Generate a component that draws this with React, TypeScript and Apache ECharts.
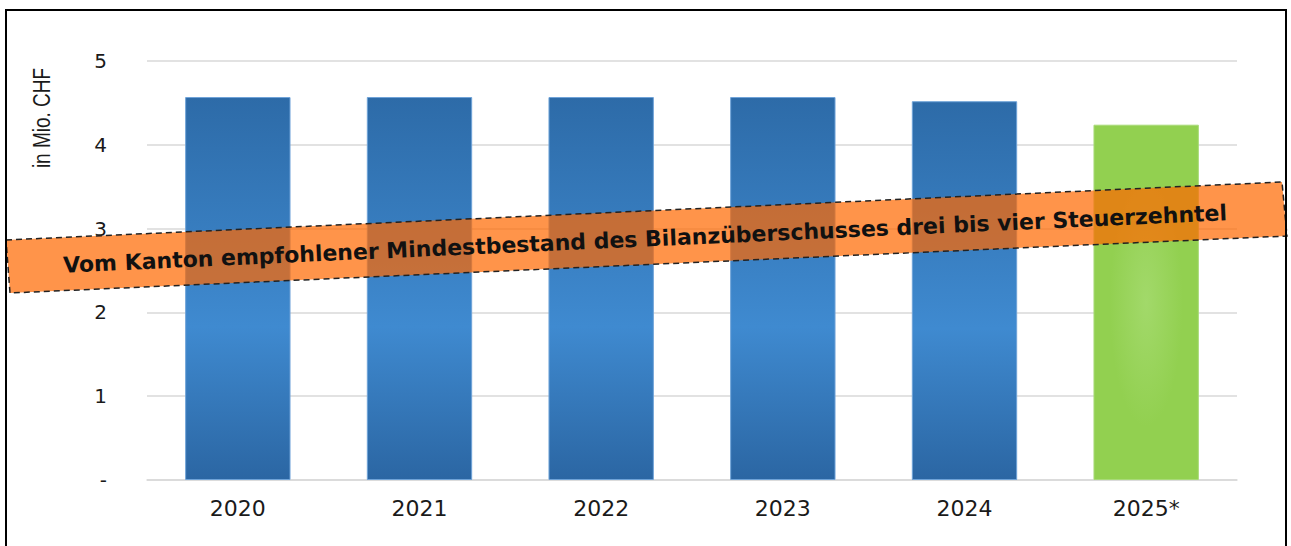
import React, { useEffect, useRef } from "react";
import * as echarts from "echarts";

const years = ["2020", "2021", "2022", "2023", "2024", "2025*"];
const values = [4.57, 4.57, 4.57, 4.57, 4.52, 4.24];
const yTicks = [0, 1, 2, 3, 4, 5];
const yAxisTitle = "in Mio. CHF";
const bandText =
  "Vom Kanton empfohlener Mindestbestand des Bilanzüberschusses drei bis vier Steuerzehntel";

export default function App() {
  const ref = useRef<HTMLDivElement>(null);
  useEffect(() => {
    if (!ref.current) return;
    const chart = echarts.init(ref.current, null, { renderer: "svg" });
    const blue = new echarts.graphic.LinearGradient(0, 0, 0, 1, [
      { offset: 0, color: "#2D6BA8" },
      { offset: 0.6, color: "#3F8AD0" },
      { offset: 1, color: "#2B66A3" },
    ]);
    const green = new echarts.graphic.RadialGradient(0.5, 0.5, 0.35, [
      { offset: 0, color: "#A2D96A" },
      { offset: 1, color: "#92D050" },
    ]);
    const data = values.map((v, i) => ({
      value: v,
      itemStyle: years[i].endsWith("*")
        ? { color: green, borderColor: "#A8DA78", borderWidth: 1 }
        : { color: blue, borderColor: "#6FA3D8", borderWidth: 1 },
    }));
    const angle = Math.atan2(58, 1276);
    chart.setOption({
      animation: false,
      backgroundColor: "#ffffff",
      grid: { left: 147, right: 54, top: 61, bottom: 66 },
      xAxis: {
        type: "category",
        data: years,
        axisLine: { show: true, lineStyle: { color: "#D9D9D9", width: 1.5 } },
        axisTick: { show: false },
        axisLabel: {
          margin: 17,
          color: "#1a1a1a",
          fontSize: 22,
          fontFamily: "DejaVu Sans",
        },
      },
      yAxis: {
        type: "value",
        min: yTicks[0],
        max: yTicks[yTicks.length - 1],
        interval: 1,
        axisLine: { show: false },
        axisTick: { show: false },
        splitLine: { lineStyle: { color: "#D9D9D9", width: 1.5 } },
        axisLabel: {
          margin: 40,
          color: "#1a1a1a",
          fontSize: 20,
          fontFamily: "DejaVu Sans",
          formatter: (v: number) => (v === 0 ? "-" : String(v)),
        },
      },
      series: [
        {
          type: "bar",
          data,
          barWidth: "58%",
        },
      ],
      graphic: [
        {
          type: "rect",
          shape: { x: 6, y: 10, width: 1280, height: 545 },
          style: { fill: "none", stroke: "#000", lineWidth: 2 },
          z: 100,
        },
        {
          type: "text",
          x: 42,
          y: 118,
          rotation: Math.PI / 2,
          scaleY: 1.3,
          style: {
            text: yAxisTitle,
            fill: "#1a1a1a",
            font: '19px "Liberation Sans"',
            align: "center",
            verticalAlign: "middle",
          },
        },
        {
          type: "polygon",
          shape: {
            points: [
              [6, 240],
              [1282, 182],
              [1287, 236],
              [10, 293],
            ],
          },
          style: {
            fill: "rgba(255,104,0,0.71)",
            stroke: "#222",
            lineWidth: 1.5,
            lineDash: [6, 4],
          },
          z: 50,
        },
        {
          type: "text",
          x: 645,
          y: 239,
          rotation: angle,
          style: {
            text: bandText,
            fill: "#111",
            font: 'bold 22px "DejaVu Sans"',
            align: "center",
            verticalAlign: "middle",
          },
          z: 51,
        },
      ],
    });
    return () => chart.dispose();
  }, []);
  return (
    <div
      ref={ref}
      style={{ position: "absolute", left: 0, top: 0, width: 1291, height: 546 }}
    />
  );
}
